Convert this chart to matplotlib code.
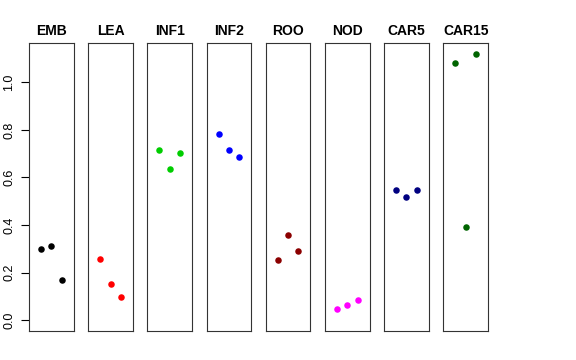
import matplotlib
matplotlib.use("Agg")
import matplotlib.pyplot as plt

plt.rcParams['font.family'] = ['Liberation Sans', 'DejaVu Sans']

# valores
groups = ["EMB", "LEA", "INF1", "INF2", "ROO", "NOD", "CAR5", "CAR15"]
colors = ["black", "red", "#00CD00", "blue", "#8B0000", "magenta", "#000080", "#006400"]
x_pos = [1, 2, 3]
emb = [0.297, 0.313, 0.167]
lea = [0.257, 0.150, 0.097]
inf1 = [0.715, 0.637, 0.704]
inf2 = [0.781, 0.714, 0.687]
roo = [0.254, 0.356, 0.290]
nod = [0.046, 0.064, 0.084]
car5 = [0.547, 0.517, 0.547]
car15 = [1.084, 0.390, 1.120]
values = [emb, lea, inf1, inf2, roo, nod, car5, car15]
yticks = [0.0, 0.2, 0.4, 0.6, 0.8, 1.0]

fig, axes = plt.subplots(1, 8, figsize=(5.76, 3.6), dpi=100, sharey=True)
fig.subplots_adjust(left=0.0503, right=0.8472, bottom=0.0814, top=0.8797, wspace=0.324)

ymax = 1.12
for i, (ax, name, col, vals) in enumerate(zip(axes, groups, colors, values)):
    ax.scatter(x_pos, vals, s=22, color=col, linewidths=0, zorder=3)
    ax.set_xlim(-0.16, 4.16)
    ax.set_ylim(-0.04 * ymax, 1.04 * ymax)
    ax.set_xticks([])
    ax.set_title(name, fontsize=10, fontweight="bold", pad=6)
    for s in ax.spines.values():
        s.set_linewidth(0.8)
        s.set_color("#333333")
    if i == 0:
        ax.set_yticks(yticks)
        ax.set_yticklabels([f"{t:.1f}" for t in yticks], rotation=90, va="center", fontsize=9)
        ax.tick_params(axis="y", length=6, width=0.8, pad=4)
    else:
        ax.tick_params(axis="y", left=False, labelleft=False)

fig.savefig("out.png", dpi=100)
